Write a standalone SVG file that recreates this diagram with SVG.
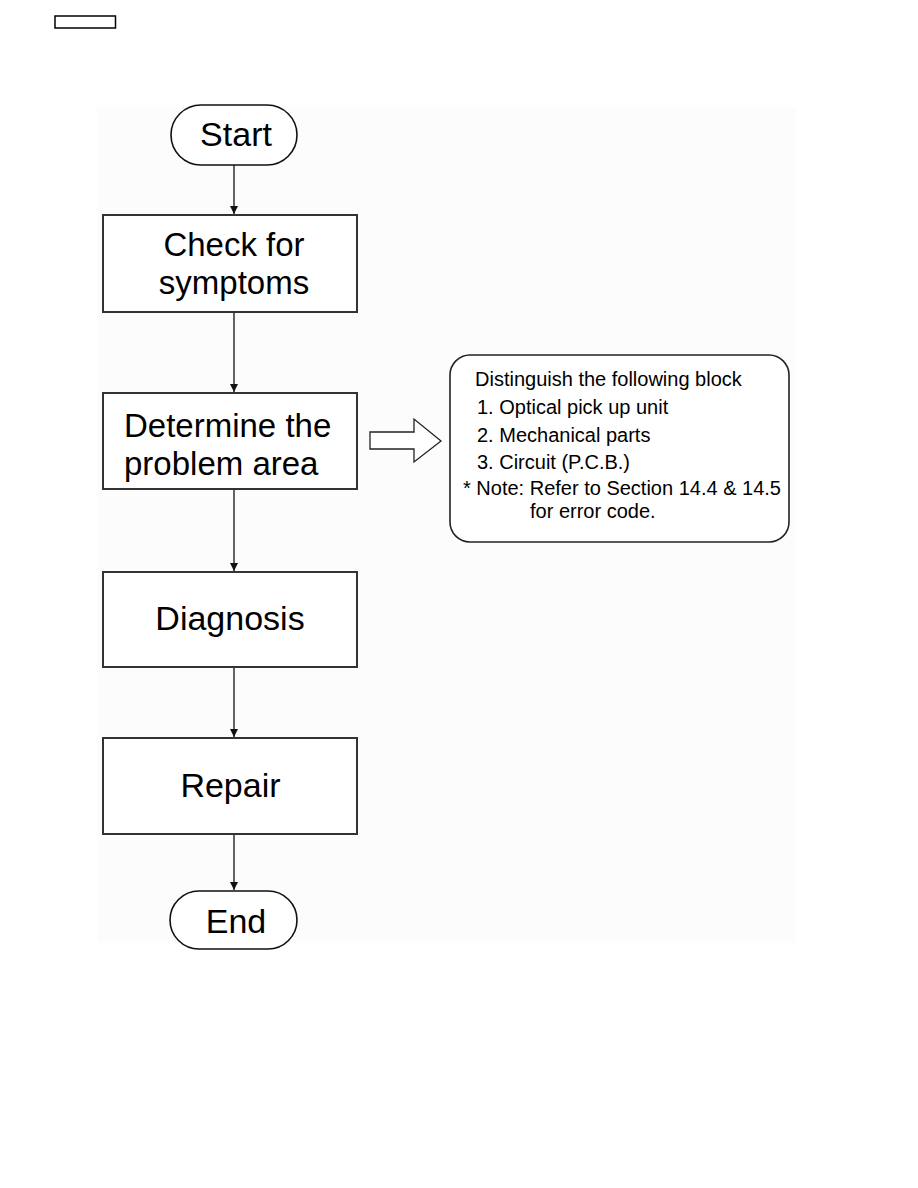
<svg xmlns="http://www.w3.org/2000/svg" width="918" height="1188" viewBox="0 0 918 1188">
<style>
  .box{fill:#fff;stroke:#333;stroke-width:2}
  .term{fill:#fff;stroke:#111;stroke-width:1.6}
  .big{font-family:"Liberation Sans",Arial,sans-serif;font-size:34px;fill:#000}
  .big2{font-family:"Liberation Sans",Arial,sans-serif;font-size:33px;fill:#000}
  .small{font-family:"Liberation Sans",Arial,sans-serif;font-size:20px;fill:#000}
  .conn{stroke:#111;stroke-width:1.3;fill:none}
</style>
<defs>
  <marker id="ah" viewBox="0 0 10 10" refX="10" refY="5" markerWidth="8" markerHeight="8" markerUnits="userSpaceOnUse" orient="auto">
    <path d="M0,0 L10,5 L0,10 Z" fill="#111"/>
  </marker>
</defs>
<rect x="0" y="0" width="918" height="1188" fill="#fff"/>
<rect x="97" y="107" width="699" height="836" fill="#fcfcfc"/>
<rect id="tag" x="55" y="16" width="60.5" height="12" fill="none" stroke="#000" stroke-width="1.5"/>

<g id="connectors">
  <line class="conn" x1="234" y1="165" x2="234" y2="214" marker-end="url(#ah)"/>
  <line class="conn" x1="234" y1="312" x2="234" y2="392" marker-end="url(#ah)"/>
  <line class="conn" x1="234" y1="489" x2="234" y2="571" marker-end="url(#ah)"/>
  <line class="conn" x1="234" y1="667" x2="234" y2="737" marker-end="url(#ah)"/>
  <line class="conn" x1="234" y1="834" x2="234" y2="890" marker-end="url(#ah)"/>
  <polygon points="370,432 414,432 414,419 441,441 414,462 414,449 370,449" fill="#fff" stroke="#222" stroke-width="1.3"/>
</g>

<g id="start">
  <rect class="term" x="171" y="105" width="126" height="60" rx="30" ry="30"/>
  <text class="big" x="236" y="146" text-anchor="middle">Start</text>
</g>
<g id="check">
  <rect class="box" x="103" y="215" width="254" height="97"/>
  <text class="big2" x="234" y="256" text-anchor="middle">Check for</text>
  <text class="big2" x="234" y="294" text-anchor="middle">symptoms</text>
</g>
<g id="determine">
  <rect class="box" x="103" y="393" width="254" height="96"/>
  <text class="big2" x="124" y="437">Determine the</text>
  <text class="big2" x="124" y="475">problem area</text>
</g>
<g id="diagnosis">
  <rect class="box" x="103" y="572" width="254" height="95"/>
  <text class="big" x="230" y="630" text-anchor="middle">Diagnosis</text>
</g>
<g id="repair">
  <rect class="box" x="103" y="738" width="254" height="96"/>
  <text class="big" x="230.5" y="797" text-anchor="middle">Repair</text>
</g>
<g id="end">
  <rect class="term" x="170" y="891" width="127" height="58" rx="29" ry="29"/>
  <text class="big" x="236" y="933" text-anchor="middle">End</text>
</g>
<g id="note">
  <rect x="450" y="355" width="339" height="187" rx="20" ry="20" fill="#fff" stroke="#222" stroke-width="1.6"/>
  <text class="small" x="475" y="386">Distinguish the following block</text>
  <text class="small" x="477" y="414">1. Optical pick up unit</text>
  <text class="small" x="477" y="442">2. Mechanical parts</text>
  <text class="small" x="477" y="469">3. Circuit (P.C.B.)</text>
  <text class="small" x="463" y="495">* Note: Refer to Section 14.4 &amp; 14.5</text>
  <text class="small" x="530" y="518">for error code.</text>
</g>
</svg>
